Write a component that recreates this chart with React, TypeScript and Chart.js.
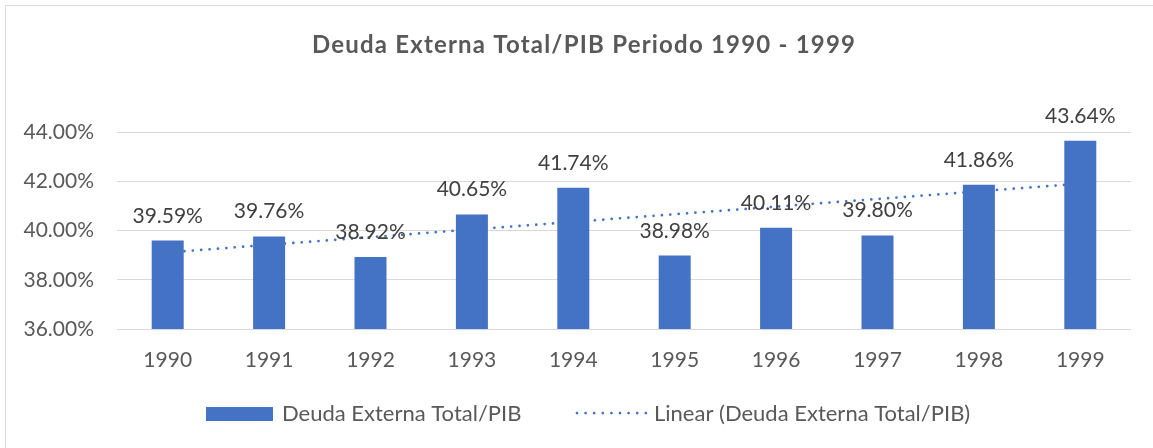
import React, { useEffect, useRef } from "react";
import { Chart, registerables } from "chart.js";

Chart.register(...registerables);

const TITLE = "Deuda Externa Total/PIB Periodo 1990 - 1999";
const categories = ["1990", "1991", "1992", "1993", "1994", "1995", "1996", "1997", "1998", "1999"];
const ratioValues = [39.59, 39.76, 38.92, 40.65, 41.74, 38.98, 40.11, 39.8, 41.86, 43.64];
const trendValues = [39.11, 39.42, 39.73, 40.04, 40.35, 40.66, 40.97, 41.28, 41.59, 41.9];
const seriesName = "Deuda Externa Total/PIB";
const trendName = "Linear (Deuda Externa Total/PIB)";
const yMin = 36;
const yMax = 44;
const yStep = 2;

const BLUE = "#4472C4";
const TEXT = "#595959";
const LABEL = "#404040";
const GRID = "#d9d9d9";
const FONT = "Lato, 'Open Sans', sans-serif";

const decorPlugin = {
  id: "decor",
  beforeDraw(chart: any) {
    const ctx = chart.ctx;
    ctx.save();
    ctx.fillStyle = "#ffffff";
    ctx.fillRect(0, 0, chart.width, chart.height);
    ctx.strokeStyle = GRID;
    ctx.lineWidth = 1;
    ctx.beginPath();
    ctx.moveTo(5.5, chart.height + 2);
    ctx.lineTo(5.5, 5.5);
    ctx.lineTo(chart.width + 2, 5.5);
    ctx.stroke();
    ctx.restore();
  },
  afterDatasetsDraw(chart: any) {
    const ctx = chart.ctx;
    ctx.save();
    const meta = chart.getDatasetMeta(0);
    ctx.font = `21px ${FONT}`;
    ctx.fillStyle = LABEL;
    ctx.textAlign = "center";
    ctx.textBaseline = "alphabetic";
    meta.data.forEach((el: any, i: number) => {
      ctx.fillText(ratioValues[i].toFixed(2) + "%", el.x, el.y - 18);
    });
    ctx.restore();
  },
  afterDraw(chart: any) {
    const ctx = chart.ctx;
    ctx.save();
    // title
    ctx.font = `bold 24px ${FONT}`;
    ctx.fillStyle = TEXT;
    ctx.textAlign = "center";
    ctx.textBaseline = "alphabetic";
    try {
      (ctx as any).letterSpacing = "1.2px";
    } catch (e) {}
    ctx.fillText(TITLE, 584, 53);
    try {
      (ctx as any).letterSpacing = "0px";
    } catch (e) {}
    // legend
    const ly = 414;
    ctx.textBaseline = "middle";
    ctx.fillStyle = BLUE;
    ctx.fillRect(206, 407, 67, 14);
    ctx.font = `22px ${FONT}`;
    ctx.fillStyle = TEXT;
    ctx.textAlign = "left";
    ctx.fillText(seriesName, 282, ly);
    ctx.strokeStyle = BLUE;
    ctx.lineWidth = 2.75;
    ctx.lineCap = "round";
    ctx.setLineDash([0, 8.6]);
    ctx.beginPath();
    ctx.moveTo(577, 413);
    ctx.lineTo(647, 413);
    ctx.stroke();
    ctx.setLineDash([]);
    ctx.fillText(trendName, 654, ly);
    ctx.restore();
  },
};

export default function App() {
  const ref = useRef<HTMLCanvasElement | null>(null);
  useEffect(() => {
    if (!ref.current) return;
    Chart.defaults.font.family = FONT;
    const chart = new Chart(ref.current, {
      type: "bar",
      data: {
        labels: categories,
        datasets: [
          {
            type: "bar",
            label: seriesName,
            data: ratioValues,
            backgroundColor: BLUE,
            barPercentage: 1,
            categoryPercentage: 0.3156,
            order: 0,
          },
          {
            type: "line",
            label: trendName,
            data: trendValues,
            borderColor: BLUE,
            borderWidth: 2.75,
            borderDash: [0, 8.4],
            borderCapStyle: "round",
            pointRadius: 0,
            fill: false,
            tension: 0,
            order: 1,
          } as any,
        ],
      },
      options: {
        responsive: false,
        animation: false,
        devicePixelRatio: 1,
        layout: { padding: { top: 132, left: 0, right: 22, bottom: 0 } },
        plugins: {
          legend: { display: false },
          title: { display: false },
          tooltip: { enabled: false },
        },
        scales: {
          x: {
            grid: { display: false, drawTicks: false },
            border: { display: false },
            ticks: { color: TEXT, font: { size: 21, family: FONT }, padding: 19, maxRotation: 0 },
            afterFit: (scale: any) => {
              scale.height = 119;
            },
          },
          y: {
            min: yMin,
            max: yMax,
            grid: { color: GRID, lineWidth: 1, drawTicks: false },
            border: { display: false },
            ticks: {
              stepSize: yStep,
              color: TEXT,
              font: { size: 21, family: FONT },
              padding: 23,
              callback: (v: any) => Number(v).toFixed(2) + "%",
            },
            afterFit: (scale: any) => {
              scale.width = 117;
            },
          },
        },
      },
      plugins: [decorPlugin],
    });
    return () => chart.destroy();
  }, []);
  return (
    <div style={{ position: "absolute", left: 0, top: 0, width: 1153, height: 448 }}>
      <canvas ref={ref} width={1153} height={448} style={{ display: "block" }} />
    </div>
  );
}
